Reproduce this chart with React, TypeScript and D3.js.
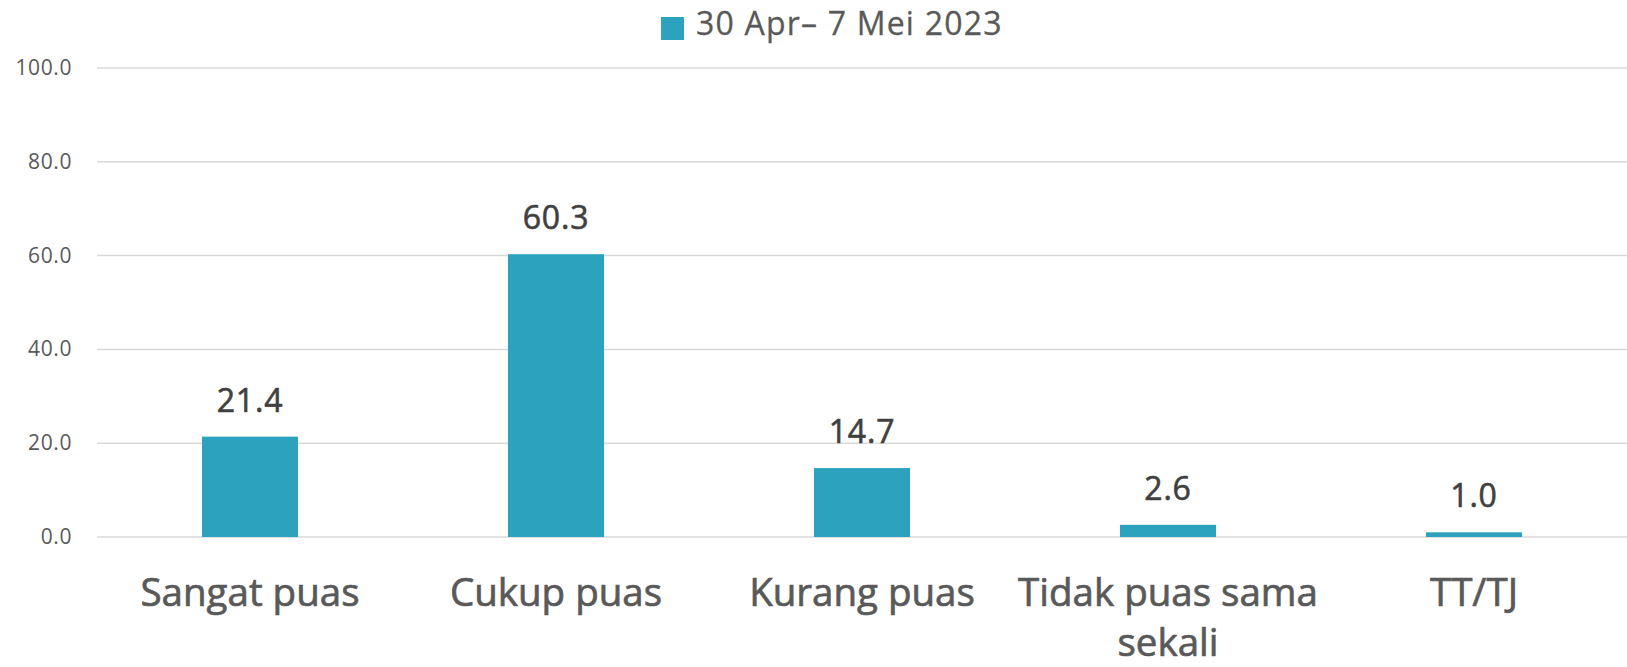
import React from "react";
import * as d3 from "d3";

const categories = ["Sangat puas", "Cukup puas", "Kurang puas", "Tidak puas sama sekali", "TT/TJ"];
const categoryLines = [["Sangat puas"], ["Cukup puas"], ["Kurang puas"], ["Tidak puas sama", "sekali"], ["TT/TJ"]];
const values = [21.4, 60.3, 14.7, 2.6, 1.0];
const yTicks = [0, 20, 40, 60, 80, 100];
const seriesName = "30 Apr\u2013 7 Mei 2023";

const W = 1627;
const H = 667;
const FONT = "'Open Sans', sans-serif";
const BAR = "#2CA2BF";

export default function App() {
  const x = d3.scaleBand<string>().domain(categories).range([97, 1627]).padding(0);
  const y = d3.scaleLinear().domain([0, 100]).range([537, 68]);
  const barW = x.bandwidth() * 0.314;

  return (
    <svg width={W} height={H} style={{ position: "absolute", left: 0, top: 0, background: "#fff" }}>
      <rect x={0} y={0} width={W} height={H} fill="#fff" />
      {yTicks.map((t) => (
        <g key={t}>
          <line x1={97} x2={1627} y1={y(t)} y2={y(t)} stroke="#D9D9D9" strokeWidth={1.5} />
          <text x={72} y={y(t) + 7} textAnchor="end" fontFamily={FONT} fontSize={21} letterSpacing={0.6} fill="#595959">
            {d3.format(".1f")(t)}
          </text>
        </g>
      ))}
      {categories.map((c, i) => {
        const cx = (x(c) as number) + x.bandwidth() / 2;
        return (
          <g key={c}>
            <rect x={cx - barW / 2} y={y(values[i])} width={barW} height={y(0) - y(values[i])} fill={BAR} />
            <text x={cx} y={y(values[i]) - 25} textAnchor="middle" fontFamily={FONT} fontSize={32} letterSpacing={0.8} fill="#404040" stroke="#404040" strokeWidth={0.6}>
              {d3.format(".1f")(values[i])}
            </text>
            {categoryLines[i].map((line, j) => (
              <text key={j} x={cx} y={606 + j * 50} textAnchor="middle" fontFamily={FONT} fontSize={38.5} fill="#595959" stroke="#595959" strokeWidth={0.7}>
                {line}
              </text>
            ))}
          </g>
        );
      })}
      <rect x={661} y={17} width={23} height={23} fill={BAR} />
      <text x={696} y={35} fontFamily={FONT} fontSize={32} letterSpacing={1.2} fill="#595959" stroke="#595959" strokeWidth={0.3}>
        {seriesName}
      </text>
    </svg>
  );
}
